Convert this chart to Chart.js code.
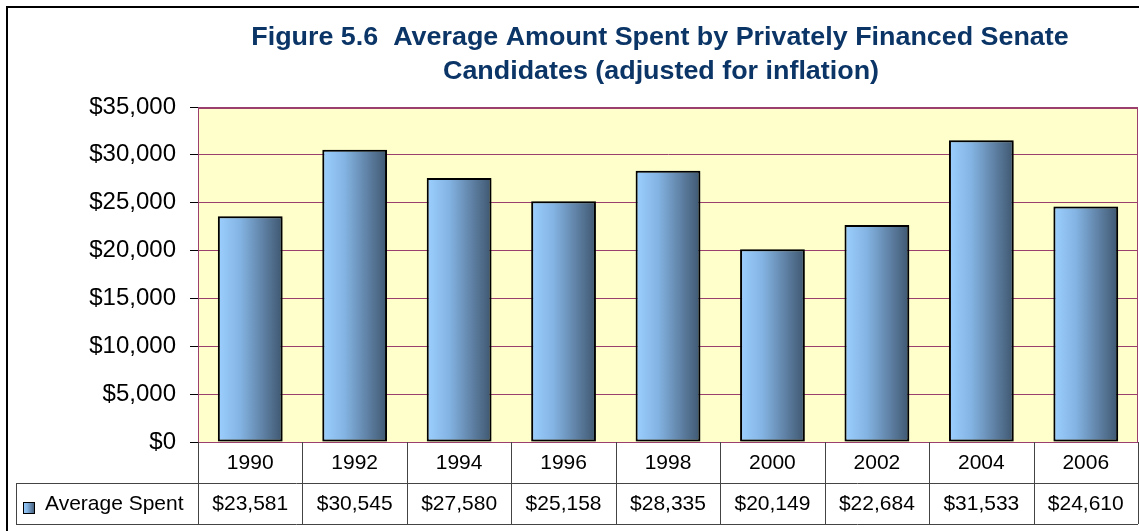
<!DOCTYPE html>
<html>
<head>
<meta charset="utf-8">
<script src="https://cdn.jsdelivr.net/npm/chart.js@4.4.1/dist/chart.umd.min.js"></script>
<style>
  html, body { margin: 0; padding: 0; background: #fff; }
  #wrap { width: 1139px; height: 531px; position: relative; }
</style>
</head>
<body>
<div id="wrap"><canvas id="senadoChart"></canvas></div>
<script>
// Dados do gráfico
const anos = ['1990', '1992', '1994', '1996', '1998', '2000', '2002', '2004', '2006'];
const mediaGasta = [23581, 30545, 27580, 25158, 28335, 20149, 22684, 31533, 24610];
const nomeSerie = 'Average Spent';
const tituloLinhas = [
    'Figure 5.6  Average Amount Spent by Privately Financed Senate',
    'Candidates (adjusted for inflation)'
];
const eixoY = { min: 0, max: 35000, passo: 5000 };

const FONTE = '"Liberation Sans", Arial, sans-serif';
const ROXO = '#9B3F6E';
const LARGURA_BARRA = 0.62;

function dinheiro(v) {
    return '$' + v.toLocaleString('en-US');
}

// Gradiente horizontal das barras (claro à esquerda, escuro à direita)
function gradienteBarra(ctx, x0, x1) {
    const g = ctx.createLinearGradient(x0, 0, x1, 0);
    g.addColorStop(0, '#9CCFFF');
    g.addColorStop(0.35, '#83B3E2');
    g.addColorStop(0.75, '#5A7A9C');
    g.addColorStop(1, '#3E5770');
    return g;
}

// Sombra leve em volta das barras
const sombra = {
    id: 'sombra',
    beforeDatasetsDraw(chart) {
        const c = chart.ctx;
        c.save();
        c.shadowColor = 'rgba(0, 0, 0, 0.35)';
        c.shadowBlur = 3;
        c.shadowOffsetX = 1;
        c.shadowOffsetY = 1;
    },
    afterDatasetsDraw(chart) {
        chart.ctx.restore();
    }
};

// Fundo amarelo, moldura, título e tabela de dados
const moldura = {
    id: 'moldura',
    beforeDraw(chart) {
        const { ctx, chartArea: a } = chart;
        ctx.save();
        ctx.fillStyle = '#FFFFCC';
        ctx.fillRect(a.left, a.top, a.right - a.left, a.bottom - a.top);
        ctx.restore();
    },
    afterDraw(chart) {
        const { ctx, chartArea: a } = chart;
        const x = chart.scales.x;
        ctx.save();

        // borda externa do gráfico
        ctx.strokeStyle = '#000';
        ctx.lineWidth = 2;
        ctx.beginPath();
        ctx.moveTo(7, 531);
        ctx.lineTo(7, 7);
        ctx.lineTo(1139, 7);
        ctx.stroke();

        // borda da área de plotagem
        ctx.strokeStyle = ROXO;
        ctx.lineWidth = 1;
        ctx.strokeRect(a.left + 0.5, a.top + 0.5, a.right - a.left - 1, a.bottom - a.top);
        ctx.lineWidth = 2;
        ctx.beginPath();
        ctx.moveTo(a.left, a.top + 1);
        ctx.lineTo(a.right, a.top + 1);
        ctx.stroke();

        // título (fonte um pouco alargada)
        ctx.fillStyle = '#0B3566';
        ctx.font = 'bold 25px ' + FONTE;
        ctx.textAlign = 'center';
        ctx.textBaseline = 'middle';
        ctx.save();
        ctx.scale(1.075, 1);
        ctx.fillText(tituloLinhas[0], 660 / 1.075, 38);
        ctx.fillText(tituloLinhas[1], 661 / 1.075, 72);
        ctx.restore();

        // tabela de dados
        const passo = (a.right - a.left) / anos.length;
        const l1 = a.bottom, l2 = a.bottom + 41, l3 = a.bottom + 82;
        ctx.strokeStyle = '#444';
        ctx.lineWidth = 1;
        ctx.beginPath();
        ctx.moveTo(16, l2 + 0.5); ctx.lineTo(a.right, l2 + 0.5);
        ctx.moveTo(16, l3 + 0.5); ctx.lineTo(a.right, l3 + 0.5);
        ctx.moveTo(16.5, l2); ctx.lineTo(16.5, l3);
        for (let i = 0; i <= anos.length; i++) {
            const xv = Math.round(a.left + passo * i) + 0.5;
            ctx.moveTo(xv, l1); ctx.lineTo(xv, l3);
        }
        ctx.stroke();

        ctx.fillStyle = '#000';
        ctx.font = '21px ' + FONTE;
        anos.forEach((ano, i) => {
            const cx = x.getPixelForValue(i);
            ctx.fillText(ano, cx, (l1 + l2) / 2 + 1);
            ctx.fillText(dinheiro(mediaGasta[i]), cx, (l2 + l3) / 2 + 1);
        });

        // legenda da série
        ctx.fillStyle = gradienteBarra(ctx, 23, 35);
        ctx.fillRect(23, 502, 12, 12);
        ctx.strokeStyle = '#000';
        ctx.strokeRect(23.5, 502.5, 11, 11);
        ctx.fillStyle = '#000';
        ctx.textAlign = 'left';
        ctx.fillText(nomeSerie, 45, (l2 + l3) / 2 + 1);

        ctx.restore();
    }
};

const ctx = document.getElementById('senadoChart').getContext('2d');

new Chart(ctx, {
    type: 'bar',
    data: {
        labels: anos,
        datasets: [{
            label: nomeSerie,
            data: mediaGasta,
            backgroundColor: (c) => {
                const chart = c.chart;
                if (!chart.chartArea || !chart.scales.x) return '#83B3E2';
                const a = chart.chartArea;
                const meia = (a.right - a.left) / anos.length * LARGURA_BARRA / 2;
                const cx = chart.scales.x.getPixelForValue(c.dataIndex);
                return gradienteBarra(chart.ctx, cx - meia, cx + meia);
            },
            borderColor: '#000',
            borderWidth: 2,
            borderSkipped: false,
            categoryPercentage: 1,
            barPercentage: LARGURA_BARRA
        }]
    },
    options: {
        responsive: true,
        maintainAspectRatio: false,
        animation: false,
        layout: { padding: { top: 107, right: 1, bottom: 89, left: 0 } },
        plugins: {
            legend: { display: false },
            title: { display: false },
            tooltip: { enabled: false }
        },
        scales: {
            x: { display: false },
            y: {
                min: eixoY.min,
                max: eixoY.max,
                afterFit(scale) { scale.width = 198; },
                border: { color: ROXO, width: 1 },
                grid: {
                    color: ROXO,
                    tickColor: '#000',
                    tickLength: 8,
                    drawOnChartArea: true
                },
                ticks: {
                    stepSize: eixoY.passo,
                    padding: 14,
                    color: '#000',
                    font: { family: FONTE, size: 24 },
                    callback: (v) => dinheiro(v)
                }
            }
        }
    },
    plugins: [sombra, moldura]
});
</script>
</body>
</html>
